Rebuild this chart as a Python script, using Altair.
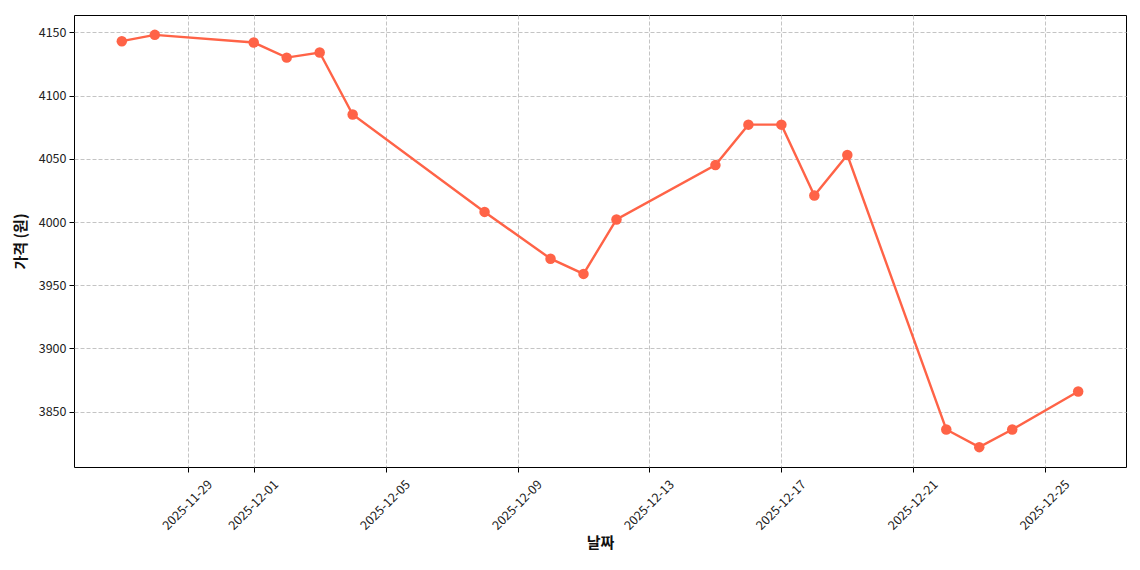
import altair as alt
import pandas as pd

dates = ["2025-11-27", "2025-11-28", "2025-12-01", "2025-12-02", "2025-12-03",
         "2025-12-04", "2025-12-08", "2025-12-10", "2025-12-11", "2025-12-12",
         "2025-12-15", "2025-12-16", "2025-12-17", "2025-12-18", "2025-12-19",
         "2025-12-22", "2025-12-23", "2025-12-24", "2025-12-26"]
prices = [4143, 4148, 4142, 4130, 4134,
          4085, 4008, 3971, 3959, 4002,
          4045, 4077, 4077, 4021, 4053,
          3836, 3822, 3836, 3866]
x_ticks = ["2025-11-29", "2025-12-01", "2025-12-05", "2025-12-09",
           "2025-12-13", "2025-12-17", "2025-12-21", "2025-12-25"]
y_ticks = [3850, 3900, 3950, 4000, 4050, 4100, 4150]

df = pd.DataFrame({"date": dates, "price": prices})

def ms(s):
    return int(pd.Timestamp(s, tz="UTC").value // 10**6)

x0, x1 = ms(dates[0]), ms(dates[-1])
pad = (x1 - x0) * 0.05
x_domain = [x0 - pad, x1 + pad]

FONT = "Noto Sans CJK KR"
COLOR = "#FF6347"

chart = alt.Chart(df).mark_line(
    color=COLOR, strokeWidth=2.4,
    point=alt.OverlayMarkDef(color=COLOR, filled=True, size=110, opacity=1),
).encode(
    x=alt.X("date:T",
            scale=alt.Scale(type="utc", domain=x_domain, nice=False),
            axis=alt.Axis(title="날짜", values=[ms(t) for t in x_ticks],
                          labelExpr="utcFormat(datum.value, '%Y-%m-%d')",
                          labelAngle=-45, labelAlign="right", labelBaseline="middle",
                          labelOffset=22, labelPadding=10)),
    y=alt.Y("price:Q",
            scale=alt.Scale(domain=[3806.3, 4163.7], nice=False, zero=False),
            axis=alt.Axis(title="가격 (원)", values=y_ticks, format="d", labelPadding=3)),
).properties(
    width=1052, height=452,
    autosize=alt.AutoSizeParams(type="none"),
    padding={"left": 66, "top": 7, "right": 6, "bottom": 92},
).configure_view(
    stroke="black", strokeWidth=1,
).configure_axis(
    domain=False,
    grid=True, gridColor="#c4c4c4", gridDash=[4, 2], gridWidth=1,
    ticks=True, tickColor="black", tickSize=5, tickWidth=1,
    labelFont=FONT, labelFontSize=12.5, labelColor="#222222",
    titleFont=FONT, titleFontSize=15, titleFontWeight="bold", titleColor="#111111",
).configure_axisY(
    titlePadding=10,
).configure_axisX(
    titlePadding=4,
)

chart.save("out.html", embed_options={"renderer": "svg", "actions": False})
